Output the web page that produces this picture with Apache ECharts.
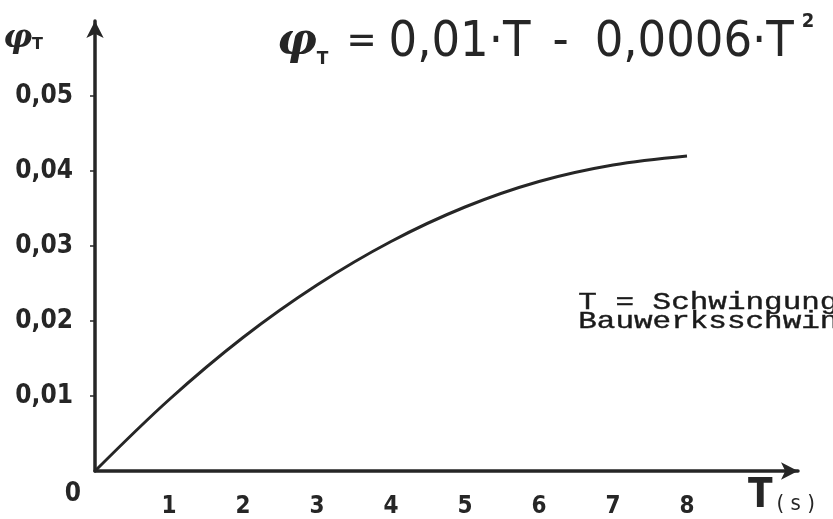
<!DOCTYPE html>
<html>
<head>
<meta charset="utf-8">
<script src="https://cdn.jsdelivr.net/npm/echarts@6/dist/echarts.min.js"></script>
<style>
  html, body { margin: 0; padding: 0; background: #fff; }
  #chart { width: 833px; height: 519px; }
</style>
</head>
<body>
<div id="chart"></div>
<script>
// Schwingungsdauer T (s) und Beiwert φT
const periods = [0, 1, 2, 3, 4, 5, 6, 7, 8];
const phiValues = [0, 0.0095, 0.0178, 0.0248, 0.0306, 0.0352, 0.0386, 0.0408, 0.042];

// Achsenbereiche und Teilung
const xMax = 9.5;
const xStep = 1;
const yMax = 0.06;
const yStep = 0.01;
const xTickLabels = [0, 1, 2, 3, 4, 5, 6, 7, 8];
const yTickLabels = [0.01, 0.02, 0.03, 0.04, 0.05];

const ink = '#262626';
const labelFont = 'DejaVu Sans Condensed';
const eqFont = 'DejaVu Sans Condensed';

const chart = echarts.init(document.getElementById('chart'), null, { renderer: 'canvas' });

chart.setOption({
  backgroundColor: '#ffffff',
  animation: false,
  title: {
    left: 272,
    top: 7,
    text: '{phi|φ}{sub|T}{eq|=}{a|0,01·T}{m|-}{b|0,0006·T}{sup|2}',
    textStyle: {
      fontWeight: 'normal',
      rich: {
        phi: { fontFamily: 'DejaVu Serif', fontStyle: 'italic', fontWeight: 'bold', fontSize: 44, color: ink, lineHeight: 62, verticalAlign: 'middle' },
        sub: { fontFamily: 'DejaVu Sans', fontWeight: 'bold', fontSize: 17, color: ink, lineHeight: 62, verticalAlign: 'bottom', padding: [0, 18, 6, 0] },
        eq: { fontFamily: eqFont, fontWeight: 'normal', fontSize: 40, color: ink, lineHeight: 62, verticalAlign: 'middle', padding: [0, 12, 0, 0] },
        a: { fontFamily: eqFont, fontWeight: 'normal', fontSize: 50, color: ink, lineHeight: 62, verticalAlign: 'middle' },
        m: { fontFamily: eqFont, fontWeight: 'normal', fontSize: 50, color: ink, lineHeight: 62, verticalAlign: 'middle', padding: [0, 26, 0, 22] },
        b: { fontFamily: eqFont, fontWeight: 'normal', fontSize: 50, color: ink, lineHeight: 62, verticalAlign: 'middle' },
        sup: { fontFamily: eqFont, fontWeight: 'bold', fontSize: 20, color: ink, lineHeight: 62, verticalAlign: 'top', padding: [0, 0, 0, 8] }
      }
    }
  },
  grid: { left: 95, right: 35, top: 21, bottom: 42, containLabel: false },
  xAxis: {
    type: 'value',
    min: 0,
    max: xMax,
    interval: xStep,
    splitLine: { show: false },
    axisTick: { show: false },
    axisLine: {
      lineStyle: { color: ink, width: 3.5 },
      symbol: ['none', 'arrow'],
      symbolSize: [13, 17]
    },
    axisLabel: {
      margin: 10,
      customValues: xTickLabels,
      formatter: function (v) {
        return v === 0 ? '{z|0}' : '{d|' + v + '}';
      },
      rich: {
        z: { fontFamily: labelFont, fontWeight: 'bold', fontSize: 26, color: ink, padding: [0, 44, 0, 0] },
        d: { fontFamily: labelFont, fontWeight: 'bold', fontSize: 24, color: ink, padding: [14, 0, 0, 0] }
      }
    },
    name: '{t|T}{s|( s )}',
    nameLocation: 'end',
    nameGap: -50,
    nameTextStyle: {
      align: 'left',
      verticalAlign: 'top',
      padding: [6, 0, 0, 0],
      rich: {
        t: { fontFamily: 'DejaVu Sans Condensed', fontWeight: 'bold', fontSize: 40, color: ink, lineHeight: 40, verticalAlign: 'bottom' },
        s: { fontFamily: 'DejaVu Sans Condensed', fontWeight: 'normal', fontSize: 22, color: ink, lineHeight: 40, verticalAlign: 'bottom', padding: [0, 0, 2, 4] }
      }
    }
  },
  yAxis: {
    type: 'value',
    min: 0,
    max: yMax,
    interval: yStep,
    splitLine: { show: false },
    axisLine: {
      lineStyle: { color: ink, width: 3.5 },
      symbol: ['none', 'arrow'],
      symbolSize: [13, 17]
    },
    axisTick: { show: true, length: 5, customValues: yTickLabels, lineStyle: { color: ink, width: 1.5 } },
    axisLabel: {
      margin: 22,
      customValues: yTickLabels,
      fontFamily: labelFont,
      fontWeight: 'bold',
      fontSize: 26,
      color: ink,
      formatter: function (v) {
        return v.toFixed(2).replace('.', ',');
      }
    },
    name: '{p|φ}{t|T}',
    nameLocation: 'end',
    nameGap: -18,
    nameTextStyle: {
      align: 'right',
      verticalAlign: 'middle',
      padding: [0, 52, 0, 0],
      rich: {
        p: { fontFamily: 'DejaVu Serif', fontStyle: 'italic', fontWeight: 'bold', fontSize: 32, color: ink, lineHeight: 40, verticalAlign: 'middle' },
        t: { fontFamily: 'DejaVu Sans', fontWeight: 'bold', fontSize: 16, color: ink, lineHeight: 40, verticalAlign: 'bottom', padding: [0, 0, 6, 0] }
      }
    }
  },
  series: [{
    type: 'line',
    data: periods.map(function (t, i) { return [t, phiValues[i]]; }),
    smooth: 0.35,
    showSymbol: false,
    lineStyle: { color: ink, width: 3 },
    z: 3
  }],
  graphic: [{
    type: 'text',
    left: 578,
    top: 290,
    scaleX: 1.29,
    style: {
      text: 'T = Schwingungsdauer der\nBauwerksschwingung',
      font: '24px "Liberation Mono"',
      fill: '#1a1a1a',
      stroke: '#1a1a1a',
      lineWidth: 0.4,
      lineHeight: 19
    }
  }]
});
</script>
</body>
</html>
